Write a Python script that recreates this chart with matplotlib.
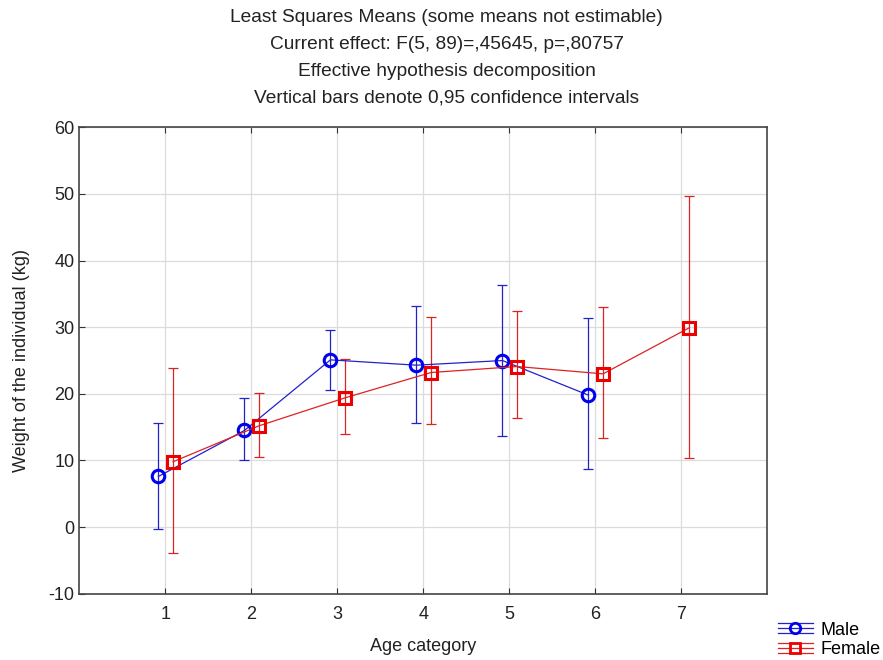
import numpy as np
import matplotlib
matplotlib.use("Agg")
import matplotlib.pyplot as plt
from matplotlib.legend_handler import HandlerBase
from matplotlib.lines import Line2D

plt.rcParams['font.family'] = ['Liberation Sans', 'DejaVu Sans']
plt.rcParams['axes.unicode_minus'] = False

# data
age_male = [1, 2, 3, 4, 5, 6]
male_mean = [7.6, 14.5, 25.1, 24.3, 25.0, 19.8]
male_low = [-0.3, 10.0, 20.6, 15.6, 13.7, 8.7]
male_high = [15.6, 19.3, 29.6, 33.2, 36.3, 31.4]

age_female = [1, 2, 3, 4, 5, 6, 7]
female_mean = [9.8, 15.2, 19.4, 23.2, 24.1, 23.0, 29.9]
female_low = [-3.9, 10.5, 14.0, 15.5, 16.3, 13.4, 10.4]
female_high = [23.9, 20.1, 25.3, 31.5, 32.4, 33.0, 49.7]

title_lines = ["Least Squares Means (some means not estimable)",
               "Current effect: F(5, 89)=,45645, p=,80757",
               "Effective hypothesis decomposition",
               "Vertical bars denote 0,95 confidence intervals"]

blue_line = '#2222cc'
blue_mk = '#0000ee'
red_line = '#dd2222'
red_mk = '#ee0000'

fig = plt.figure(figsize=(8.83, 6.60), dpi=100)
ax = fig.add_axes([0.0898, 0.1005, 0.869 - 0.0898, 0.807 - 0.1005])

xm = np.array(age_male) - 0.08
xf = np.array(age_female) + 0.09
mm = np.array(male_mean)
fm = np.array(female_mean)

# confidence interval bars
ax.errorbar(xm, mm, yerr=[mm - np.array(male_low), np.array(male_high) - mm],
            fmt='none', ecolor=blue_line, elinewidth=0.9, capsize=3.5, capthick=0.9, zorder=2)
ax.errorbar(xf, fm, yerr=[fm - np.array(female_low), np.array(female_high) - fm],
            fmt='none', ecolor=red_line, elinewidth=0.9, capsize=3.5, capthick=0.9, zorder=2)

# means
ax.plot(xm, mm, color=blue_line, lw=0.9, marker='o', markersize=9,
        markerfacecolor='none', markeredgecolor=blue_mk, markeredgewidth=2.2, zorder=3)
ax.plot(xf, fm, color=red_line, lw=0.9, marker='s', markersize=8.5,
        markerfacecolor='none', markeredgecolor=red_mk, markeredgewidth=2.2, zorder=3)

ax.set_xlim(0, 8)
ax.set_ylim(-10, 60)
ax.set_xticks(range(1, 8))
ax.set_yticks(range(-10, 61, 10))
ax.grid(True, color='#dcdcdc', lw=0.9)
ax.set_axisbelow(True)
ax.tick_params(direction='in', length=4, labelsize=13, colors='#333333',
               top=True, labelcolor='#222222')
ax.tick_params(axis='x', pad=9)
for s in ax.spines.values():
    s.set_color('#444444')
    s.set_linewidth(1.2)

ax.set_xlabel('Age category', fontsize=13, color='#222222', labelpad=11)
ax.set_ylabel('Weight of the individual (kg)', fontsize=13, color='#222222', labelpad=13)

for i, t in enumerate(title_lines):
    fig.text(0.506, 1 - (18 + i * 26.7) / 660, t, ha='center', va='center',
             fontsize=13.8, color='#222222')


class HandlerCI(HandlerBase):
    # legend key: mean line with marker and bar limits above and below
    def create_artists(self, legend, orig, xdescent, ydescent, width, height, fontsize, trans):
        c = orig.get_color()
        yc = height / 2 - ydescent
        arts = []
        for dy in (-height * 0.38, 0, height * 0.38):
            arts.append(Line2D([-xdescent, width - xdescent], [yc + dy, yc + dy],
                               color=c, lw=0.9, transform=trans))
        arts.append(Line2D([width / 2 - xdescent], [yc], marker=orig.get_marker(),
                           markersize=orig.get_markersize(), markerfacecolor='none',
                           markeredgecolor=orig.get_markeredgecolor(),
                           markeredgewidth=orig.get_markeredgewidth(), transform=trans))
        return arts


h1 = Line2D([], [], color=blue_line, marker='o', markersize=7.5,
            markeredgecolor=blue_mk, markeredgewidth=2)
h2 = Line2D([], [], color=red_line, marker='s', markersize=7,
            markeredgecolor=red_mk, markeredgewidth=2)
fig.legend([h1, h2], ['Male', 'Female'], loc='lower right',
           bbox_to_anchor=(1.016, -0.022), frameon=False, fontsize=13,
           handlelength=1.9, handletextpad=0.45, labelspacing=0.15,
           handler_map={h1: HandlerCI(), h2: HandlerCI()})

fig.savefig('out.png', dpi=100)
